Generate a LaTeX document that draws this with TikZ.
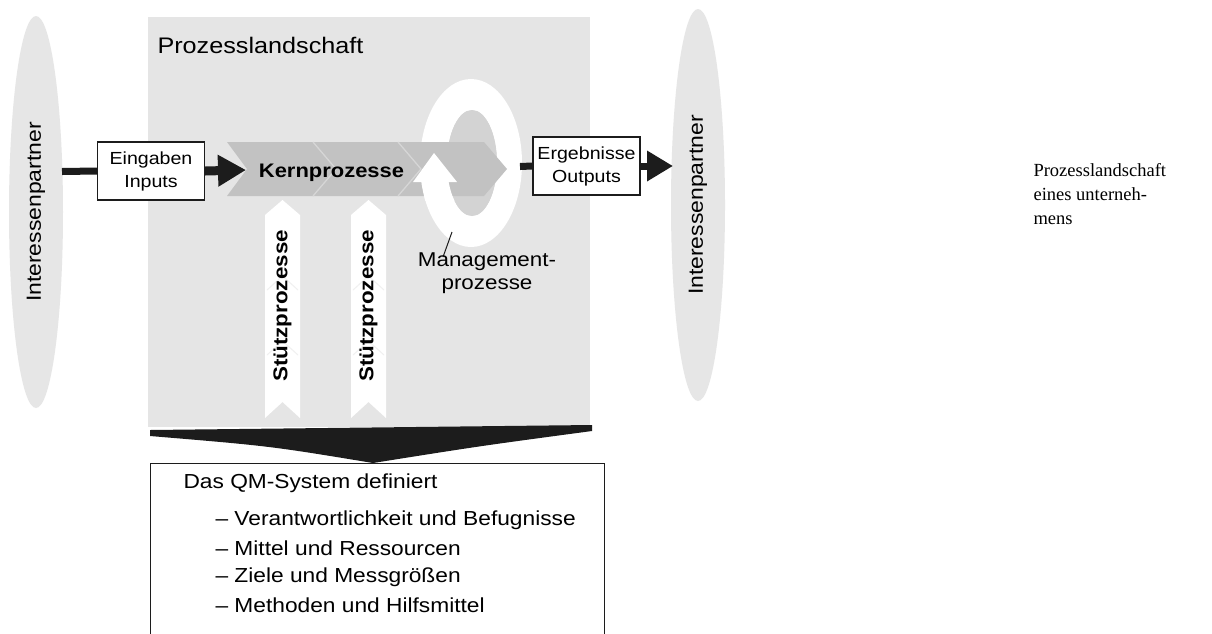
\documentclass[tikz,border=0pt]{standalone}
\usepackage{fontspec}
\setmainfont{Liberation Sans}[FakeStretch=1.12]
\newfontfamily\capfont{Liberation Serif}
\usetikzlibrary{arrows.meta,shapes.geometric}
\definecolor{bggrey}{HTML}{E5E5E5}
\definecolor{ellgrey}{HTML}{E6E6E6}
\definecolor{bandgrey}{HTML}{C2C2C2}
\definecolor{sepgrey}{HTML}{D6D6D6}
\definecolor{holegrey}{HTML}{D3D3D3}
\definecolor{inkblack}{HTML}{1C1C1C}
\begin{document}
\begin{tikzpicture}[x=1pt,y=-1pt,
  partner/.style={ellipse, fill=ellgrey, rotate=90, minimum width=392pt, minimum height=54pt, inner sep=0pt, font=\fontsize{20.5}{24}\selectfont},
  iobox/.style={draw=inkblack, line width=1.2pt, fill=white, minimum width=107pt, minimum height=58pt, inner sep=0pt, align=center, font=\fontsize{17.5}{23}\selectfont},
  flow/.style={draw=inkblack, line width=7pt},
  bigarrow/.style={draw=inkblack, line width=9pt, -{Triangle[length=28pt,width=30pt]}},
  stuetztext/.style={rotate=90, font=\bfseries\fontsize{20}{24}\selectfont},
  qmtext/.style={anchor=west, font=\fontsize{20.3}{24}\selectfont}]
\path[clip] (0,0) rectangle (1212,633);
\fill[white] (0,0) rectangle (1212,633);

% background of the process landscape
\fill[bggrey] (148,17) rectangle (590,427);
\node[anchor=base west, font=\fontsize{22.5}{27}\selectfont] (title) at (154,53) {Prozesslandschaft};

% stakeholders
\node[partner] (ipL) at (36,212) {Interessenpartner};
\node[partner] (ipR) at (698,205) {Interessenpartner};

% management ring (back part)
\fill[white, even odd rule] (471,163) ellipse [x radius=51pt, y radius=84pt]
                            (472,163) ellipse [x radius=25pt, y radius=53pt];
\fill[holegrey] (472,163) ellipse [x radius=25pt, y radius=53pt];

% core process band
\fill[bandgrey] (227,142) -- (484,142) -- (507,169) -- (484,196) -- (227,196) -- (247,169) -- cycle;
\draw[sepgrey, line width=1.3pt] (313,142) -- (336,169) -- (313,196);
\draw[sepgrey, line width=1.3pt] (398,142) -- (421,169) -- (398,196);
\node[anchor=base, font=\bfseries\fontsize{19.6}{24}\selectfont] (kern) at (331.5,177) {Kernprozesse};

% management ring (front part with arrow head)
\begin{scope}
  \clip (400,180) rectangle (471,200);
  \fill[white, even odd rule] (471,163) ellipse [x radius=51pt, y radius=84pt]
                              (472,163) ellipse [x radius=25pt, y radius=53pt];
\end{scope}
\fill[white] (413,182) -- (434,153) -- (457,182) -- cycle;
\coordinate (ringpt) at (452,232);
\coordinate (leadend) at (443,257);
\draw[inkblack, line width=1pt] (ringpt) -- (leadend);
\node[align=center, font=\fontsize{20}{23}\selectfont] (mgmt) at (487,273) {Management-\\prozesse};

% support processes
\fill[white] (265,215) -- (282.5,200) -- (300,215) -- (300,418) -- (282.5,402) -- (265,418) -- cycle;
\fill[white] (351,215) -- (368.5,200) -- (386,215) -- (386,418) -- (368.5,402) -- (351,418) -- cycle;
\draw[gray!12, line width=1pt] (267,290) -- (282.5,276) -- (298,290) (267,355) -- (282.5,341) -- (298,355);
\draw[gray!12, line width=1pt] (353,290) -- (368.5,276) -- (384,290) (353,355) -- (368.5,341) -- (384,355);
\node[stuetztext] (s1) at (282.5,306) {Stützprozesse};
\node[stuetztext] (s2) at (368.5,306) {Stützprozesse};

% inputs
\node[iobox] (ein) at (151,171) {Eingaben\\Inputs};
\coordinate (ipLout) at (62,171.5);
\coordinate (bandin) at (246,170);
\draw[flow] (ipLout) -- (ein.west);
\draw[bigarrow] (ein.east) -- (bandin);

% outputs
\node[iobox] (erg) at (586.5,166) {Ergebnisse\\Outputs};
\coordinate (bandout) at (520,166.5);
\coordinate (ipRin) at (673,166);
\draw[flow] (bandout) -- (erg.west);
\draw[draw=inkblack, line width=7pt, -{Triangle[length=26pt,width=29pt]}] (erg.east) -- (ipRin);

% big arrow down to QM system
\fill[inkblack] (150,430) -- (592,425) -- (592,431) .. controls (480,446) .. (373,463)
               .. controls (270,446) .. (150,436) -- cycle;

% QM system box
\node[draw=inkblack, line width=1.2pt, fill=white, anchor=north west, minimum width=454pt, minimum height=190pt, inner sep=0pt] (qm) at (150,463) {};
\node[qmtext] (qmhead) at (180,483) {Das QM-System definiert};
\node[qmtext] (qm1) at (212,520) {– Verantwortlichkeit und Befugnisse};
\node[qmtext] (qm2) at (212,548) {– Mittel und Ressourcen};
\node[qmtext] (qm3) at (212,577) {– Ziele und Messgrößen};
\node[qmtext] (qm4) at (212,605) {– Methoden und Hilfsmittel};

% caption
\node[anchor=west, align=left, font=\capfont\fontsize{18.5}{24}\selectfont] (caption) at (1030,194) {Prozesslandschaft\\eines unterneh-\\mens};
\end{tikzpicture}
\end{document}
